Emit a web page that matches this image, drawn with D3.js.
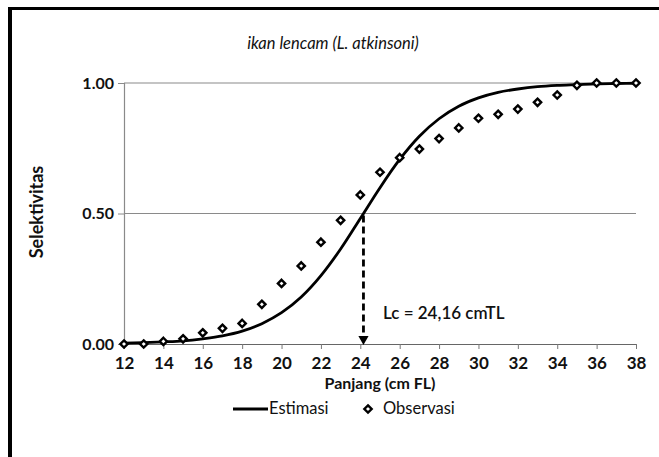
<!DOCTYPE html>
<html>
<head>
<meta charset="utf-8">
<script src="https://cdn.jsdelivr.net/npm/d3@7"></script>
<style>
  body { margin: 0; background: #fff; }
  text { font-family: Lato, "Open Sans", sans-serif; }
</style>
</head>
<body>
<svg id="chart" width="659" height="457"></svg>
<script>
  // observed selectivity per length class
  var lengths = [12, 13, 14, 15, 16, 17, 18, 19, 20, 21, 22, 23, 24, 25,
                 26, 27, 28, 29, 30, 31, 32, 33, 34, 35, 36, 37, 38];
  var observasi = [0.00, 0.00, 0.01, 0.02, 0.043, 0.06, 0.079, 0.152, 0.232, 0.299, 0.39, 0.474, 0.571, 0.658,
                   0.714, 0.747, 0.787, 0.828, 0.865, 0.88, 0.90, 0.926, 0.954, 0.991, 1.0, 1.0, 1.0];
  // estimated curve, read at each length class
  var estimasi = [0.003, 0.005, 0.008, 0.012, 0.020, 0.031, 0.049, 0.078, 0.12, 0.18, 0.262, 0.364, 0.481, 0.599,
                  0.707, 0.796, 0.863, 0.911, 0.943, 0.964, 0.977, 0.986, 0.991, 0.994, 0.997, 0.998, 0.999];
  var xTicks = [12, 14, 16, 18, 20, 22, 24, 26, 28, 30, 32, 34, 36, 38];
  var yTicks = [0, 0.5, 1];
  var lc = 24.16;
  var lcLabel = "Lc = 24,16 cmTL";

  var svg = d3.select("#chart");

  // frame of the figure
  svg.append("line").attr("x1", 8).attr("y1", 8.5).attr("x2", 659).attr("y2", 8.5)
    .attr("stroke", "#000").attr("stroke-width", 3);
  svg.append("line").attr("x1", 10).attr("y1", 7).attr("x2", 10).attr("y2", 457)
    .attr("stroke", "#000").attr("stroke-width", 4);

  var x = d3.scaleLinear().domain([12, 38]).range([124, 636]);
  var y = d3.scaleLinear().domain([0, 1]).range([344, 83]);

  // gridlines
  svg.append("g").selectAll("line")
    .data(yTicks.filter(function (d) { return d > 0; }))
    .enter().append("line")
    .attr("x1", x(12)).attr("x2", x(38))
    .attr("y1", function (d) { return y(d); })
    .attr("y2", function (d) { return y(d); })
    .attr("stroke", "#8a8a8a").attr("stroke-width", 1.2);

  // y axis
  var yAxis = svg.append("g")
    .attr("transform", "translate(" + x(12) + ",0)")
    .call(d3.axisLeft(y).tickValues(yTicks).tickSize(6).tickPadding(4)
      .tickFormat(d3.format(".2f")));
  yAxis.select(".domain").attr("stroke", "#8a8a8a").attr("stroke-width", 1.2);
  yAxis.selectAll(".tick line").attr("stroke", "#8a8a8a");
  yAxis.selectAll("text").attr("font-size", 16).attr("font-weight", "bold").attr("fill", "#111");

  // x axis
  var xAxis = svg.append("g")
    .attr("transform", "translate(0," + y(0) + ")")
    .call(d3.axisBottom(x).tickValues(xTicks).tickSize(5).tickSizeOuter(0).tickPadding(8));
  xAxis.select(".domain").attr("stroke", "#666").attr("stroke-width", 1.2);
  xAxis.selectAll(".tick line").attr("stroke", "#777");
  xAxis.selectAll("text").attr("font-size", 17).attr("font-weight", "bold").attr("fill", "#111");

  // estimated curve
  var line = d3.line()
    .x(function (d) { return x(d[0]); })
    .y(function (d) { return y(d[1]); })
    .curve(d3.curveMonotoneX);
  svg.append("path")
    .datum(d3.zip(lengths, estimasi))
    .attr("d", line)
    .attr("fill", "none").attr("stroke", "#000").attr("stroke-width", 2.8);

  // Lc arrow
  svg.append("line")
    .attr("x1", x(lc)).attr("x2", x(lc))
    .attr("y1", y(0.5) + 2).attr("y2", y(0) - 10)
    .attr("stroke", "#000").attr("stroke-width", 2.8)
    .attr("stroke-dasharray", "7,4");
  svg.append("path")
    .attr("d", d3.symbol().type(d3.symbolTriangle).size(45))
    .attr("transform", "translate(" + x(lc) + "," + (y(0) - 5) + ") rotate(180)")
    .attr("fill", "#000");
  svg.append("text")
    .attr("x", 383).attr("y", 319)
    .attr("font-size", 17).attr("font-weight", 600).attr("fill", "#111")
    .text(lcLabel);

  // observed points
  var diamond = d3.symbol().type(d3.symbolDiamond2).size(34);
  svg.append("g").selectAll("path")
    .data(d3.zip(lengths, observasi))
    .enter().append("path")
    .attr("d", diamond)
    .attr("transform", function (d) { return "translate(" + x(d[0]) + "," + y(d[1]) + ")"; })
    .attr("fill", "#fff").attr("stroke", "#000").attr("stroke-width", 2.4);

  // titles
  svg.append("text")
    .attr("x", 333).attr("y", 49).attr("text-anchor", "middle")
    .attr("font-size", 16.5).attr("font-style", "italic").attr("fill", "#111")
    .text("ikan lencam (L. atkinsoni)");
  svg.append("text")
    .attr("x", 380).attr("y", 389).attr("text-anchor", "middle")
    .attr("font-size", 16).attr("font-weight", "bold").attr("fill", "#111")
    .text("Panjang (cm FL)");
  svg.append("text")
    .attr("transform", "translate(43,212) rotate(-90)")
    .attr("text-anchor", "middle")
    .attr("font-size", 18).attr("font-weight", "bold").attr("fill", "#111")
    .text("Selektivitas");

  // legend
  var lg = svg.append("g").attr("transform", "translate(0,414)");
  lg.append("line").attr("x1", 233).attr("x2", 268).attr("y1", -5).attr("y2", -5)
    .attr("stroke", "#000").attr("stroke-width", 2.8);
  lg.append("text").attr("x", 269).attr("y", 0).attr("font-size", 16.5).attr("fill", "#111").text("Estimasi");
  lg.append("path").attr("d", diamond)
    .attr("transform", "translate(368,-5)")
    .attr("fill", "#fff").attr("stroke", "#000").attr("stroke-width", 2.4);
  lg.append("text").attr("x", 383).attr("y", 0).attr("font-size", 16.5).attr("fill", "#111").text("Observasi");
</script>
</body>
</html>
